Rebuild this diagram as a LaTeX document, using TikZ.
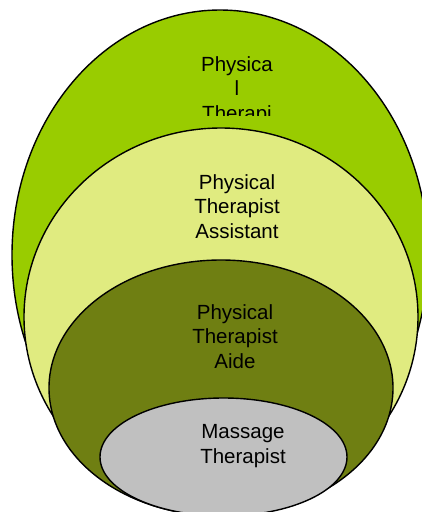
\documentclass[tikz,border=0pt]{standalone}
\usepackage{fontspec}
\setmainfont{Liberation Sans}
\definecolor{outergreen}{RGB}{153,204,0}
\definecolor{lightgreen}{RGB}{224,235,128}
\definecolor{olive}{RGB}{111,127,18}
\definecolor{greyfill}{RGB}{192,192,192}
\tikzset{
  ring/.style={draw=black, line width=1.4pt},
  label/.style={align=center, inner sep=0pt, font=\fontsize{20.5pt}{24.5pt}\selectfont, anchor=base},
}
\begin{document}
\begin{tikzpicture}[x=1pt,y=-1pt]
\useasboundingbox (0,0) rectangle (422,512);
\clip (0,0) rectangle (422,512);
\fill[white] (0,0) rectangle (422,512);
\draw[ring, fill=outergreen] (220,255) ellipse [x radius=208pt, y radius=245pt];
\draw[ring, fill=lightgreen] (221,317) ellipse [x radius=197pt, y radius=189pt];
\draw[ring, fill=olive] (221,388) ellipse [x radius=172pt, y radius=128pt];
\draw[ring, fill=greyfill] (223.5,457) ellipse [x radius=123.5pt, y radius=59pt];
\begin{scope}
\clip (150,30) rectangle (320,115);
\node[label] (pt) at (237,120) {Physica\\l\\Therapi};
\end{scope}
\node[label] (pta) at (237,238) {Physical\\Therapist\\Assistant};
\node[label] (ptaide) at (235,368) {Physical\\Therapist\\Aide};
\node[label] (mt) at (243,463) {Massage\\Therapist};
\end{tikzpicture}
\end{document}
